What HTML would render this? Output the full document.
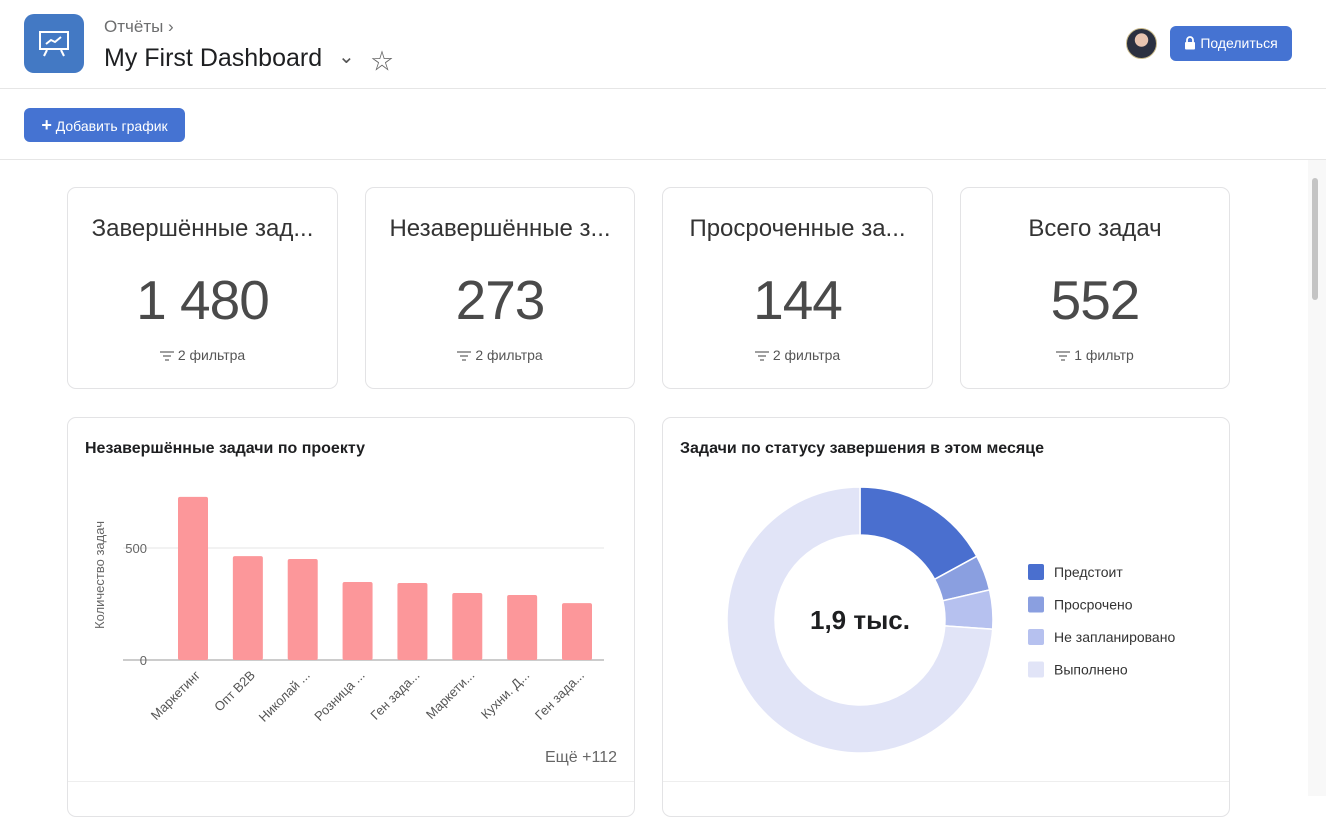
<!DOCTYPE html>
<html><head><meta charset="utf-8">
<style>
*{box-sizing:border-box;margin:0;padding:0}
body{width:1326px;height:796px;overflow:hidden;background:#fff;font-family:"Liberation Sans","Noto Sans CJK SC",sans-serif;color:#1e1f21;position:relative}
.abs{position:absolute}
.card{position:absolute;border:1px solid #e3e3e5;border-radius:9px;background:#fff}
.kt{position:absolute;left:0;right:0;top:27px;text-align:center;font-size:24px;color:#333}
.kv{position:absolute;left:0;right:0;top:80px;text-align:center;font-size:55px;color:#4a4a4a;letter-spacing:-1px}
.kf{position:absolute;left:0;right:0;top:159px;text-align:center;font-size:14px;color:#555}
.fi{display:inline-block;width:14px;height:10px;vertical-align:-1px;margin-right:4px}
</style></head><body>
<div class="abs" style="left:0;top:0;width:1326px;height:89px;border-bottom:1px solid #e6e6e6">
 <div class="abs" style="left:24px;top:14px;width:60px;height:59px;border-radius:10px;background:#4379c4">
  <svg width="60" height="59"><rect x="16" y="18" width="28" height="17" fill="none" stroke="#fff" stroke-width="2"/><polyline points="22,30 27,26 31,28 37,23" fill="none" stroke="#fff" stroke-width="2"/><line x1="23" y1="36" x2="20" y2="42" stroke="#fff" stroke-width="2"/><line x1="37" y1="36" x2="40" y2="42" stroke="#fff" stroke-width="2"/></svg>
 </div>
 <div class="abs" style="left:104px;top:17px;font-size:17px;color:#6d6e6f">Отчёты ›</div>
 <div class="abs" style="left:104px;top:44px;font-size:25px;color:#1e1f21">My First Dashboard</div>
 <div class="abs" style="left:338px;top:44px;font-size:20px;color:#555">⌄</div>
 <div class="abs" style="left:371px;top:44px;font-size:22px;color:#666">☆</div>
 <div class="abs" style="left:1126px;top:28px;width:31px;height:31px;border-radius:50%;background:radial-gradient(circle at 50% 38%,#e8c4b0 0 28%,#2b3040 30%);border:1px solid #c8b98a"></div>
 <div class="abs" style="left:1170px;top:26px;width:122px;height:35px;border-radius:6px;background:#4573d2;color:#fff;font-size:14px;line-height:35px;text-align:center"><svg width="12" height="14" style="vertical-align:-2px;margin-right:4px"><path d="M3 6V4a3 3 0 0 1 6 0v2" fill="none" stroke="#fff" stroke-width="1.8"/><rect x="1" y="6" width="10" height="7.5" rx="1" fill="#fff"/></svg>Поделиться</div>
</div>
<div class="abs" style="left:0;top:89px;width:1326px;height:71px;border-bottom:1px solid #e6e6e6">
 <div class="abs" style="left:24px;top:19px;width:161px;height:34px;border-radius:6px;background:#4573d2;color:#fff;font-size:14px;line-height:34px;text-align:center"><b style="font-size:18px">+</b> Добавить график</div>
</div>
<div class="abs" style="left:1308px;top:160px;width:18px;height:636px;background:#f8f8f8"><div style="position:absolute;left:4px;top:18px;width:6px;height:122px;background:#c4c4c4;border-radius:3px"></div></div>

<div class="card" style="left:67px;top:187px;width:271px;height:202px"><div class="kt">Завершённые зад...</div><div class="kv">1 480</div><div class="kf"><svg class="fi"><path d="M0 1h14M3 5h8M5 9h4" stroke="#666" stroke-width="1.3"/></svg>2 фильтра</div></div>
<div class="card" style="left:365px;top:187px;width:270px;height:202px"><div class="kt">Незавершённые з...</div><div class="kv">273</div><div class="kf"><svg class="fi"><path d="M0 1h14M3 5h8M5 9h4" stroke="#666" stroke-width="1.3"/></svg>2 фильтра</div></div>
<div class="card" style="left:662px;top:187px;width:271px;height:202px"><div class="kt">Просроченные за...</div><div class="kv">144</div><div class="kf"><svg class="fi"><path d="M0 1h14M3 5h8M5 9h4" stroke="#666" stroke-width="1.3"/></svg>2 фильтра</div></div>
<div class="card" style="left:960px;top:187px;width:270px;height:202px"><div class="kt">Всего задач</div><div class="kv">552</div><div class="kf"><svg class="fi"><path d="M0 1h14M3 5h8M5 9h4" stroke="#666" stroke-width="1.3"/></svg>1 фильтр</div></div>

<div class="card" style="left:67px;top:417px;width:568px;height:400px">
 <div class="abs" style="left:17px;top:22px;font-size:16px;font-weight:bold;color:#1e1f21">Незавершённые задачи по проекту</div>
 <div class="abs" style="left:0;top:363px;width:566px;height:1px;background:#eee"></div>
</div>
<svg class="abs" id="bar" style="left:0;top:0" width="640" height="796"></svg>

<div class="card" style="left:662px;top:417px;width:568px;height:400px">
 <div class="abs" style="left:17px;top:22px;font-size:16px;font-weight:bold;color:#1e1f21">Задачи по статусу завершения в этом месяце</div>
 <div class="abs" style="left:0;top:363px;width:566px;height:1px;background:#eee"></div>
</div>
<svg class="abs" id="donut" style="left:660px;top:400px" width="600" height="396"></svg>

<script>
const categories=["Маркетинг","Опт B2B","Николай ...","Розница ...","Ген зада...","Маркети...","Кухни. Д...","Ген зада..."];
const values=[728,464,451,348,344,299,290,254];
const yTicks=[0,500];
const NS="http://www.w3.org/2000/svg";
function mk(p,t,a){const e=document.createElementNS(NS,t);for(const k in a)e.setAttribute(k,a[k]);p.appendChild(e);return e;}
const bar=document.getElementById('bar');
const x0=123,x1=604,y0=660,pxPer=112/500;
const y=v=>y0-v*pxPer;
const step=(x1-x0-97)/(categories.length-1);
const xc=i=>x0+70+step*i;
yTicks.forEach(t=>{
 const l=mk(bar,'line',{x1:x0,x2:x1,y1:y(t),y2:y(t),stroke:t===0?'#bbb':'#e6e6e6','stroke-width':t===0?1.5:1});
 
 
 const tx=mk(bar,'text',{x:147,y:y(t)+5,'text-anchor':'end','font-size':13,fill:'#666'});
 tx.textContent=t;
 
 
});
const yt=mk(bar,'text',{x:0,y:0,transform:'translate(104,575) rotate(-90)','text-anchor':'middle','font-size':13,fill:'#666'});
yt.textContent='Количество задач';


values.forEach((v,i)=>{
 const r=mk(bar,'rect',{x:xc(i)-15,y:y(v),width:30,height:v*pxPer,rx:2,fill:'#fc979a'});
 
 
 const t=mk(bar,'text',{x:0,y:0,transform:`translate(${xc(i)+8},${y0+16}) rotate(-45)`,'text-anchor':'end','font-size':13,fill:'#555'});
 t.textContent=categories[i];
 
 
});
const more=mk(bar,'text',{x:617,y:762,'text-anchor':'end','font-size':16,fill:'#666'});
more.textContent='Ещё +112';



const sliceLabels=["Предстоит","Просрочено","Не запланировано","Выполнено"];
const sliceValues=[324,82,90,1404];
const centerLabel="1,9 тыс.";
const colors=['#4a6fcf','#8a9fe0','#b6c1ef','#e1e4f7'];
const dn=document.getElementById('donut');
const cx=200,cy=220,R=133,r0=85;
const tot=sliceValues.reduce((a,b)=>a+b,0);
let a=0;
const pt=(ang,rr)=>[cx+rr*Math.sin(ang),cy-rr*Math.cos(ang)];
sliceValues.forEach((v,i)=>{
 const a2=a+v/tot*2*Math.PI;const lg=(a2-a)>Math.PI?1:0;
 const [p1x,p1y]=pt(a,R),[p2x,p2y]=pt(a2,R),[p3x,p3y]=pt(a2,r0),[p4x,p4y]=pt(a,r0);
 const p=mk(dn,'path',{d:`M${p1x},${p1y}A${R},${R} 0 ${lg} 1 ${p2x},${p2y}L${p3x},${p3y}A${r0},${r0} 0 ${lg} 0 ${p4x},${p4y}Z`,fill:colors[i],stroke:'#fff','stroke-width':1.5});
 
 
 a=a2;
 const ly=172+i*32.5;
 const sw=mk(dn,'rect',{x:368,y:ly-8,width:16,height:16,rx:2,fill:colors[i]});
 
 
 const lt=mk(dn,'text',{x:394,y:ly+5,'font-size':14,fill:'#333'});
 lt.textContent=sliceLabels[i];
 
 
});
const c=mk(dn,'text',{x:cx,y:cy+9,'text-anchor':'middle','font-size':26,'font-weight':'bold',fill:'#1e1f21'});
c.textContent=centerLabel;


</script>
</body></html>
